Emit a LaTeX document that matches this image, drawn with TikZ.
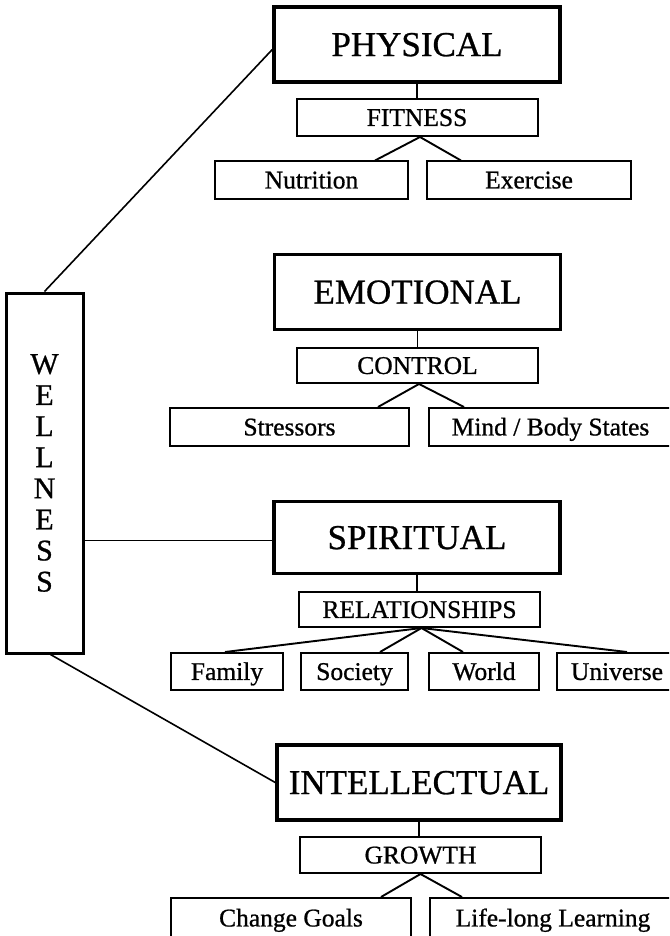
\documentclass[tikz,border=0pt]{standalone}
\usepackage{fontspec}
\setmainfont{Liberation Serif}[FakeBold=0.8]
\begin{document}
\begin{tikzpicture}[x=1pt,y=-1pt,
  bigbox/.style={draw,line width=3.5pt,minimum width=286pt,minimum height=75pt,
    inner sep=0pt,font=\fontsize{35}{40}\selectfont,text height=23.2pt,text depth=0pt},
  midbox/.style={draw,line width=2pt,minimum width=241pt,minimum height=36pt,
    inner sep=0pt,font=\fontsize{25.5}{30}\selectfont,text height=16.9pt,text depth=0pt},
  leafbox/.style={midbox,minimum height=37pt},
  spine/.style={draw,line width=3pt,minimum width=77pt,minimum height=360pt,
    inner sep=0pt,align=center,font=\fontsize{30}{31.1}\selectfont},
  link/.style={line width=1.6pt},
  fork/.style={line width=1.9pt}]

\useasboundingbox (0,0) rectangle (669,936);
\fill[white] (0,0) rectangle (669,936);
\clip (0,0) rectangle (669,936);

% central column
\node[spine] (well) at (44.5,473) {W\\E\\L\\L\\N\\E\\S\\S};

% the four dimensions
\node[bigbox] (phys)  at (417,44.5)  {PHYSICAL};
\node[bigbox] (emo)   at (417.5,292) {EMOTIONAL};
\node[bigbox,minimum height=72pt] (spir) at (417,537.5) {SPIRITUAL};
\node[bigbox,minimum width=284pt] (intel) at (419,782.5) {INTELLECTUAL};

% second level
\node[midbox,minimum height=37pt] (fit)  at (417,117.5)  {FITNESS};
\node[midbox,minimum height=35pt] (ctrl) at (417.5,365.5) {CONTROL};
\node[midbox,minimum height=35pt] (rel)  at (419.5,609.5) {RELATIONSHIPS};
\node[midbox] (grow) at (420.5,855) {GROWTH};

% third level
\node[leafbox,minimum width=193pt] (nut)  at (311.5,180) {Nutrition};
\node[leafbox,minimum width=204pt] (ex)   at (529,180)   {Exercise};
\node[leafbox,minimum width=239pt,minimum height=38pt] (str)  at (289.5,427) {Stressors};
\node[leafbox,minimum width=243pt,minimum height=38pt] (mind) at (550.5,427) {Mind / Body States};
\node[leafbox,minimum width=112pt] (fam) at (227,671.5)   {Family};
\node[leafbox,minimum width=107pt] (soc) at (354.5,671.5) {Society};
\node[leafbox,minimum width=110pt] (wor) at (484,671.5)   {World};
\node[leafbox,minimum width=120pt] (uni) at (617,671.5)   {Universe};
\node[leafbox,minimum width=240pt,minimum height=40pt] (chg)  at (291,918) {Change Goals};
\node[leafbox,minimum width=246pt,minimum height=40pt] (life) at (553,918) {Life-long Learning};

% spine to dimensions
\coordinate (sp) at ([yshift=-3pt]spir.west);
\draw[link] (well.north) -- (phys.182);
\draw[link] (well.east |- sp) -- (sp);
\draw[link] ([xshift=6pt]well.south) -- (intel.west);

% dimension to second level
\draw[link] (phys.south)  -- (phys.south |- fit.north);
\draw[link] (emo.south)   -- (emo.south |- ctrl.north);
\draw[link] (spir.south)  -- (spir.south |- rel.north);
\draw[link] (intel.south) -- (intel.south |- grow.north);

% second level to third level
\draw[fork] ([xshift=63.5pt]nut.north) -- ([xshift=3pt]fit.south) -- ([xshift=-68pt]ex.north);
\draw[fork] ([xshift=88.5pt]str.north) -- ([xshift=1.5pt]ctrl.south) -- ([xshift=-86.5pt]mind.north);
\draw[fork] ([xshift=-2pt]fam.north) -- ([xshift=2pt]rel.south) -- ([xshift=10pt]uni.north);
\draw[fork] ([xshift=25.5pt]soc.north) -- ([xshift=2pt]rel.south) -- ([xshift=-21pt]wor.north);
\draw[fork] ([xshift=90pt]chg.north) -- (grow.south) -- ([xshift=-91pt]life.north);
\end{tikzpicture}
\end{document}
